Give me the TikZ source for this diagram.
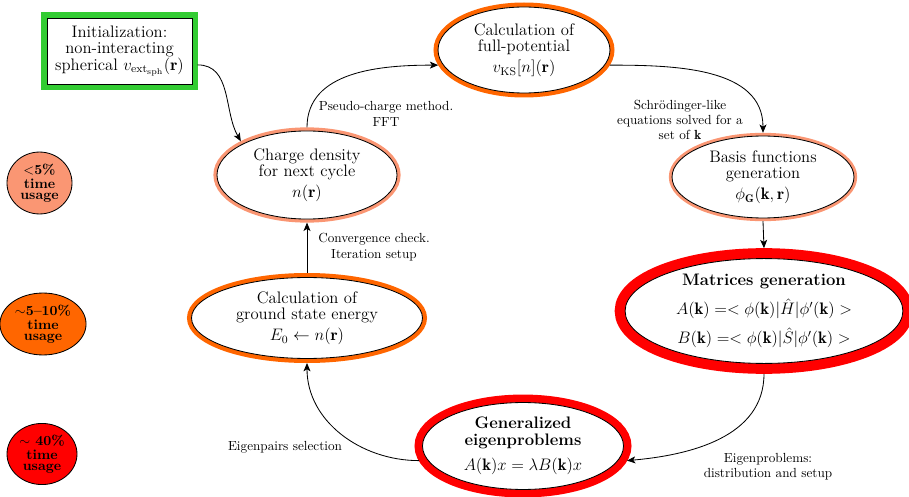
\documentclass[tikz,border=0pt]{standalone}
\usepackage{fontspec}
\usepackage{amsmath}
\usetikzlibrary{shapes.geometric,arrows.meta}
\definecolor{ringgreen}{RGB}{51,204,51}
\definecolor{ringorange}{RGB}{255,102,0}
\definecolor{ringsalmon}{RGB}{250,150,115}
\definecolor{ringred}{RGB}{255,0,0}
\begin{document}
\begin{tikzpicture}[x=0.72pt,y=0.72pt,
  every node/.style={inner sep=0pt},
  mainfont/.style={font=\fontsize{12}{12}\selectfont},
  stage/.style={ellipse, draw=black, line width=0.6pt, fill=white, align=center, mainfont},
  lbl/.style={align=center, font=\fontsize{9.5}{11}\selectfont},
  legend/.style={ellipse, draw=black, line width=0.6pt, align=center, font=\bfseries\fontsize{10}{8}\selectfont},
  flow/.style={-{Stealth[length=6pt,width=5pt,inset=1.5pt]}, line width=0.6pt}
]
\useasboundingbox (0,0) rectangle (909,496);

% initialization box
\node[draw=black, line width=0.6pt, fill=white, minimum width=104.4pt, minimum height=47.5pt,
      align=center, mainfont, preaction={draw=ringgreen, line width=8pt}, outer sep=4pt]
  (init) at (119.5,445) {Initialization:\\non-interacting\\spherical $v_{\mathrm{ext}_{\mathrm{sph}}}(\mathbf{r})$};

% stages
\node[stage, minimum width=129.6pt, minimum height=63.4pt,
      preaction={draw=ringsalmon, line width=5.2pt}, outer sep=2.6pt]
  (charge) at (307,321) {Charge density\\for next cycle\\[3pt]$n(\mathbf{r})$};

\node[stage, minimum width=123.8pt, minimum height=61.9pt,
      preaction={draw=ringorange, line width=6.5pt}, outer sep=3.25pt]
  (full) at (524,446) {Calculation of\\full-potential\\[3pt]$v_{\mathrm{KS}}[n](\mathbf{r})$};

\node[stage, minimum width=131pt, minimum height=59pt,
      preaction={draw=ringsalmon, line width=4.6pt}, outer sep=2.3pt]
  (basis) at (763,319) {Basis functions\\generation\\[3pt]$\phi_{\mathbf{G}}(\mathbf{k},\mathbf{r})$};

\node[stage, minimum width=200pt, minimum height=73.4pt,
      preaction={draw=ringred, line width=15pt}, outer sep=7.5pt]
  (matrices) at (764,185) {\textbf{Matrices generation}\\[6pt]
  $A(\mathbf{k}) =< \phi(\mathbf{k})|\hat{H}|\phi'(\mathbf{k}) >$\\[6pt]
  $B(\mathbf{k}) =< \phi(\mathbf{k})|\hat{S}|\phi'(\mathbf{k}) >$};

\node[stage, minimum width=144.7pt, minimum height=62.6pt,
      preaction={draw=ringred, line width=11.5pt}, outer sep=5.75pt]
  (gen) at (523,50) {\textbf{Generalized}\\\textbf{eigenproblems}\\[6pt]$A(\mathbf{k})x = \lambda B(\mathbf{k})x$};

\node[stage, minimum width=166.3pt, minimum height=58.3pt,
      preaction={draw=ringorange, line width=6.5pt}, outer sep=3.25pt]
  (ground) at (307,178) {Calculation of\\ground state energy\\[3pt]$E_0 \leftarrow n(\mathbf{r})$};

% legend
\node[legend, fill=ringsalmon, minimum width=46.8pt, minimum height=44.6pt]
  (leg1) at (39.5,313) {$<$5\%\\[2pt]time\\usage};
\node[legend, fill=ringorange, minimum width=62pt, minimum height=44.6pt]
  (leg2) at (43,172) {$\sim$5--10\%\\[2pt]time\\usage};
\node[legend, fill=ringred, minimum width=50.4pt, minimum height=44pt]
  (leg3) at (42,42) {$\sim$ 40\%\\[2pt]time\\usage};

% edge labels
\node[lbl] (lpseudo) at (386,382) {Pseudo-charge method.\\FFT};
\node[lbl] (lschr) at (680,376) {Schr\"odinger-like\\equations solved for a\\set of $\mathbf{k}$};
\node[lbl] (lconv) at (374,249) {Convergence check.\\Iteration setup};
\node[lbl] (lpairs) at (285,49) {Eigenpairs selection};
\node[lbl] (lprob) at (768,29) {Eigenproblems:\\distribution and setup};

% connectors
\draw[flow] ([yshift=-10pt]init.east) to[out=0,in=120] (charge.153);
\draw[flow] (charge.north) to[out=90,in=180] (full.190);
\draw[flow] (full.-10) to[out=0,in=90] (basis.north);
\draw[flow] (basis.south) -- (matrices.north);
\draw[flow] (matrices.south) to[out=270,in=5] (gen.-8);
\draw[flow] (gen.188) to[out=180,in=270] (ground.south);
\draw[flow] (ground.north) -- (charge.south);
\end{tikzpicture}
\end{document}
